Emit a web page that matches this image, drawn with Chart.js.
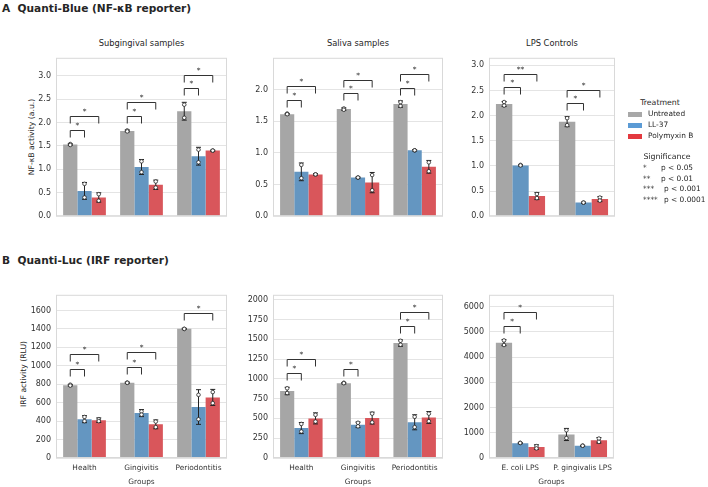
<!DOCTYPE html>
<html lang="en">
<head>
<meta charset="UTF-8">
<title>Quanti-Blue / Quanti-Luc reporter activity</title>
<script src="https://cdn.jsdelivr.net/npm/chart.js"></script>
<style>
  body { margin: 0; width: 708px; height: 487px; position: relative; background: #fff;
         font-family: "DejaVu Sans", sans-serif; color: #262626; overflow: hidden; }
  .t { position: absolute; white-space: nowrap; line-height: 1; }
  .c { transform: translate(-50%, -50%); }
  .l { transform: translateY(-50%); }
  .panel { font-weight: bold; font-size: 10.6px; }
  .sub { font-size: 8.3px; }
  .ylab { font-size: 7.7px; transform: translate(-50%, -50%) rotate(-90deg); }
  .leg { font-size: 7.4px; }
  .sw { position: absolute; width: 14px; height: 5px; }
  canvas { position: absolute; }
</style>
</head>
<body>
  <div class="t l panel" style="left:2px; top:8px;">A&nbsp;&nbsp;Quanti-Blue (NF-κB reporter)</div>
  <div class="t l panel" style="left:2px; top:260px;">B&nbsp;&nbsp;Quanti-Luc (IRF reporter)</div>

  <div class="t c sub" style="left:141.5px; top:43px;">Subgingival samples</div>
  <div class="t c sub" style="left:358px; top:43px;">Saliva samples</div>
  <div class="t c sub" style="left:552px; top:43px;">LPS Controls</div>

  <div class="t ylab" style="left:31.5px; top:137px;">NF-κB activity (a.u.)</div>
  <div class="t ylab" style="left:24px; top:373.5px;">IRF activity (RLU)</div>

  <canvas id="nfSub"></canvas>
  <canvas id="nfSal"></canvas>
  <canvas id="nfLps"></canvas>
  <canvas id="irfSub"></canvas>
  <canvas id="irfSal"></canvas>
  <canvas id="irfLps"></canvas>

  <div id="legend"></div>

  <script>
    const groups = ['Health', 'Gingivitis', 'Periodontitis'];
    const lpsGroups = ['E. coli LPS', 'P. gingivalis LPS'];
    const treatments = ['Untreated', 'LL-37', 'Polymyxin B'];
    const barColors = ['#a6a6a6', '#6496c1', '#d9565b'];
    const legendColors = ['#a8a8a8', '#5b9bd5', '#e3393f'];
    const sigStars = ['*', '**', '***', '****'];
    const sigLabels = ['p < 0.05', 'p < 0.01', 'p < 0.001', 'p < 0.0001'];

    // y tick values per panel
    const nfSubTicks = [0, 0.5, 1.0, 1.5, 2.0, 2.5, 3.0];
    const nfSalTicks = [0, 0.5, 1.0, 1.5, 2.0];
    const nfLpsTicks = [0, 0.5, 1.0, 1.5, 2.0, 2.5, 3.0];
    const irfSubTicks = [0, 200, 400, 600, 800, 1000, 1200, 1400, 1600];
    const irfSalTicks = [0, 250, 500, 750, 1000, 1250, 1500, 1750, 2000];
    const irfLpsTicks = [0, 1000, 2000, 3000, 4000, 5000, 6000];

    // rows = treatments, columns = groups
    const nfSubMean = [[1.53, 1.82, 2.24], [0.54, 1.05, 1.28], [0.40, 0.67, 1.40]];
    const nfSubSd = [[0.015, 0.02, 0.19], [0.18, 0.16, 0.19], [0.10, 0.10, 0.01]];
    const nfSubPts = [[[1.54, 1.52], [1.83, 1.81], [2.38, 2.10]],
                      [[0.69, 0.40], [1.17, 0.94], [1.42, 1.15]],
                      [[0.47, 0.33], [0.74, 0.61], [1.40, 1.40]]];
    // [group, to treatment, bracket level, label]
    const nfSubSig = [[0, 1, 1.85, '*'], [0, 2, 2.13, '*'], [1, 1, 2.14, '*'], [1, 2, 2.43, '*'], [2, 1, 2.73, '*'], [2, 2, 3.01, '*']];

    const nfSalMean = [[1.61, 1.69, 1.77], [0.70, 0.61, 1.04], [0.66, 0.53, 0.78]];
    const nfSalSd = [[0.01, 0.02, 0.05], [0.14, 0.01, 0.01], [0.01, 0.16, 0.10]];
    const nfSalPts = [[[1.62, 1.61], [1.70, 1.68], [1.80, 1.74]],
                      [[0.81, 0.60], [0.61, 0.61], [1.04, 1.04]],
                      [[0.66, 0.66], [0.65, 0.41], [0.85, 0.71]]];
    const nfSalSig = [[0, 1, 1.84, '*'], [0, 2, 2.06, '*'], [1, 1, 1.94, '*'], [1, 2, 2.15, '*'], [2, 1, 2.03, '*'], [2, 2, 2.24, '*']];

    const nfLpsMean = [[2.23, 1.88], [1.01, 0.27], [0.40, 0.34]];
    const nfLpsSd = [[0.05, 0.10], [0.01, 0.01], [0.07, 0.05]];
    const nfLpsPts = [[[2.27, 2.20], [1.95, 1.81]],
                      [[1.02, 1.01], [0.27, 0.27]],
                      [[0.44, 0.36], [0.37, 0.31]]];
    const nfLpsSig = [[0, 1, 2.56, '*'], [0, 2, 2.82, '**'], [1, 1, 2.25, '*'], [1, 2, 2.50, '*']];

    const irfSubMean = [[790, 817, 1402], [421, 487, 553], [410, 365, 657]];
    const irfSubSd = [[8, 6, 5], [38, 38, 188], [25, 48, 87]];
    const irfSubPts = [[[795, 785], [818, 815], [1400, 1400]],
                       [[445, 400], [505, 470], [685, 420]],
                       [[420, 400], [395, 335], [715, 595]]];
    const irfSubSig = [[0, 1, 963, '*'], [0, 2, 1123, '*'], [1, 1, 991, '*'], [1, 2, 1151, '*'], [2, 2, 1576, '*']];

    const irfSalMean = [[846, 943, 1451], [378, 419, 451], [500, 504, 512]];
    const irfSalSd = [[47, 8, 40], [70, 35, 95], [70, 75, 75]];
    const irfSalPts = [[[880, 820], [950, 945], [1480, 1430]],
                       [[430, 335], [445, 400], [520, 390]],
                       [[545, 460], [560, 450], [560, 465]]];
    const irfSalSig = [[0, 1, 1069, '*'], [0, 2, 1248, '*'], [1, 1, 1130, '*'], [2, 1, 1663, '*'], [2, 2, 1841, '*']];

    const irfLpsMean = [[4572, 932], [587, 485], [434, 702]];
    const irfLpsSd = [[120, 240], [20, 15], [90, 110]];
    const irfLpsPts = [[[4660, 4480], [1100, 790]],
                       [[600, 595], [490, 485]],
                       [[470, 380], [770, 640]]];
    const irfLpsSig = [[0, 1, 5236, '*'], [0, 2, 5785, '*']];

    const FONT = 'DejaVu Sans';
    const TEXT = '#333';

    // error bars, replicate dots, significance brackets, axes frame
    const extras = {
      id: 'extras',
      afterDatasetsDraw(chart, args, opts) {
        const ctx = chart.ctx, ys = chart.scales.y, a = chart.chartArea;
        ctx.save();
        ctx.strokeStyle = '#d9d9d9';
        ctx.lineWidth = 1;
        ctx.strokeRect(a.left + 0.5, a.top + 0.5, a.right - a.left - 1, a.bottom - a.top - 1);

        chart.data.datasets.forEach((ds, i) => {
          const meta = chart.getDatasetMeta(i);
          meta.data.forEach((bar, j) => {
            const m = ds.data[j], s = ds.sd[j];
            const y1 = ys.getPixelForValue(m - s), y2 = ys.getPixelForValue(m + s);
            ctx.strokeStyle = '#222';
            ctx.lineWidth = 1;
            ctx.beginPath();
            ctx.moveTo(bar.x, y1); ctx.lineTo(bar.x, y2);
            ctx.moveTo(bar.x - 2.5, y1); ctx.lineTo(bar.x + 2.5, y1);
            ctx.moveTo(bar.x - 2.5, y2); ctx.lineTo(bar.x + 2.5, y2);
            ctx.stroke();
            ds.pts[j].forEach(v => {
              ctx.beginPath();
              ctx.arc(bar.x, ys.getPixelForValue(v), 1.8, 0, Math.PI * 2);
              ctx.fillStyle = '#fff';
              ctx.fill();
              ctx.lineWidth = 0.8;
              ctx.strokeStyle = '#222';
              ctx.stroke();
            });
          });
        });

        const base = chart.getDatasetMeta(0);
        opts.sig.forEach(([g, to, level, label]) => {
          const x1 = base.data[g].x;
          const x2 = chart.getDatasetMeta(to).data[g].x;
          const yp = Math.round(ys.getPixelForValue(level)) + 0.5;
          ctx.strokeStyle = '#333';
          ctx.lineWidth = 1;
          ctx.beginPath();
          ctx.moveTo(x1, yp + 7); ctx.lineTo(x1, yp); ctx.lineTo(x2, yp); ctx.lineTo(x2, yp + 7);
          ctx.stroke();
          ctx.fillStyle = '#333';
          ctx.font = '7.5px "' + FONT + '"';
          ctx.textAlign = 'center';
          ctx.textBaseline = 'bottom';
          ctx.fillText(label, (x1 + x2) / 2, yp - 1);
        });
        ctx.restore();
      }
    };

    function makeChart(id, box, cats, means, sds, pts, sig, yMax, yTicks, dec, bottom) {
      const canvas = document.getElementById(id);
      const w = box.w + 50 + 4, h = box.h + 4 + (bottom ? 29 : 4);
      canvas.width = w; canvas.height = h;
      canvas.style.left = (box.x - 50) + 'px';
      canvas.style.top = (box.y - 4) + 'px';
      canvas.style.width = w + 'px';
      canvas.style.height = h + 'px';

      const datasets = treatments.map((t, i) => ({
        label: t,
        data: means[i],
        sd: sds[i],
        pts: pts[i],
        backgroundColor: barColors[i],
        borderWidth: 0,
        categoryPercentage: cats.length === 2 ? 0.78 : 0.75,
        barPercentage: 1
      }));

      return new Chart(canvas, {
        type: 'bar',
        data: { labels: cats, datasets },
        plugins: [extras],
        options: {
          responsive: false,
          animation: false,
          devicePixelRatio: 1,
          layout: { padding: { top: 4, right: 4, left: 0, bottom: bottom ? 0 : 4 } },
          plugins: {
            legend: { display: false },
            tooltip: { enabled: false },
            extras: { sig }
          },
          scales: {
            x: {
              afterFit: s => { s.height = bottom ? 29 : 0; },
              grid: { display: false, drawTicks: false },
              border: { display: false },
              ticks: { display: bottom, padding: 6, maxRotation: 0, autoSkip: false, color: TEXT, font: { family: FONT, size: 7.4 } },
              title: { display: bottom, text: 'Groups', color: TEXT, font: { family: FONT, size: 7.4 }, padding: { top: 2, bottom: 0 } }
            },
            y: {
              min: 0,
              max: yMax,
              afterFit: s => { s.width = 50; },
              afterBuildTicks: s => { s.ticks = yTicks.map(v => ({ value: v })); },
              grid: { color: '#e4e4e4', drawTicks: false },
              border: { display: false },
              ticks: {
                autoSkip: false,
                padding: 5,
                color: TEXT,
                font: { family: FONT, size: 8 },
                callback: v => Number(v).toFixed(dec)
              }
            }
          }
        }
      });
    }

    makeChart('nfSub', { x: 56, y: 52, w: 171, h: 170 }, groups, nfSubMean, nfSubSd, nfSubPts, nfSubSig, 3.38, nfSubTicks, 1, false);
    makeChart('nfSal', { x: 273, y: 52, w: 170, h: 170 }, groups, nfSalMean, nfSalSd, nfSalPts, nfSalSig, 2.5, nfSalTicks, 1, false);
    makeChart('nfLps', { x: 489, y: 52, w: 126, h: 170 }, lpsGroups, nfLpsMean, nfLpsSd, nfLpsPts, nfLpsSig, 3.15, nfLpsTicks, 1, false);
    makeChart('irfSub', { x: 56, y: 289, w: 171, h: 169 }, groups, irfSubMean, irfSubSd, irfSubPts, irfSubSig, 1770, irfSubTicks, 0, true);
    makeChart('irfSal', { x: 273, y: 289, w: 170, h: 169 }, groups, irfSalMean, irfSalSd, irfSalPts, irfSalSig, 2061, irfSalTicks, 0, true);
    makeChart('irfLps', { x: 489, y: 289, w: 126, h: 169 }, lpsGroups, irfLpsMean, irfLpsSd, irfLpsPts, irfLpsSig, 6470, irfLpsTicks, 0, true);

    // shared legend
    let html = '<div class="t c leg" style="left:660px; top:103px; font-size:7.8px;">Treatment</div>';
    treatments.forEach((t, i) => {
      const y = 114 + i * 11.2;
      html += `<div class="sw" style="left:628px; top:${y - 2.5}px; background:${legendColors[i]};"></div>`;
      html += `<div class="t l leg" style="left:648px; top:${y}px;">${t}</div>`;
    });
    html += '<div class="t c leg" style="left:667px; top:157px; font-size:7.8px;">Significance</div>';
    sigStars.forEach((s, i) => {
      const y = 168 + i * 10.7;
      html += `<div class="t l leg" style="left:643px; top:${y}px;">${s}</div>`;
      html += `<div class="t l leg" style="left:${i < 2 ? 661 : 664}px; top:${y}px;">${sigLabels[i]}</div>`;
    });
    document.getElementById('legend').innerHTML = html;
  </script>
</body>
</html>
